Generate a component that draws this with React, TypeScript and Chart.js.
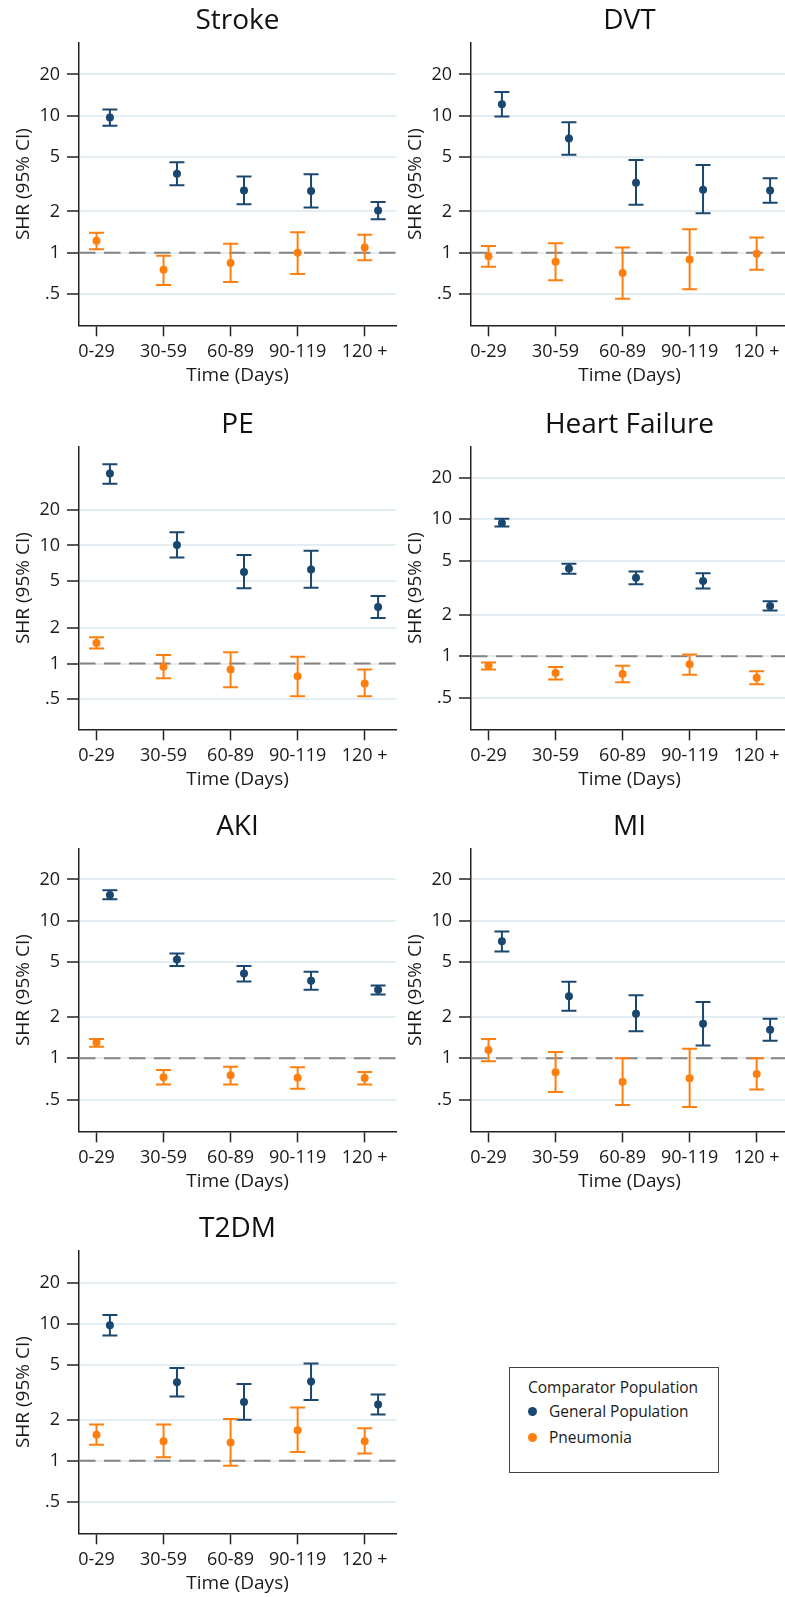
import React, { useEffect, useRef } from 'react';
import { Chart, registerables } from 'chart.js';

Chart.register(...registerables);

// ---------- data ----------
const categories = ['0-29', '30-59', '60-89', '90-119', '120 +'];
const yTickValues = [0.5, 1, 2, 5, 10, 20];
const yTickLabels = ['.5', '1', '2', '5', '10', '20'];
const seriesNames = ['General Population', 'Pneumonia'];
const panelTitles = ['Stroke', 'DVT', 'PE', 'Heart Failure', 'AKI', 'MI', 'T2DM'];

// each entry: [SHR, lower 95% CI, upper 95% CI]
const strokeGeneral = [[9.7, 8.45, 11.1], [3.77, 3.1, 4.57], [2.84, 2.26, 3.59], [2.82, 2.14, 3.73], [2.03, 1.75, 2.34]];
const strokePneumonia = [[1.22, 1.06, 1.4], [0.75, 0.58, 0.95], [0.84, 0.61, 1.16], [1.0, 0.7, 1.41], [1.09, 0.88, 1.35]];

const dvtGeneral = [[12.1, 9.84, 14.9], [6.8, 5.19, 8.95], [3.24, 2.24, 4.75], [2.88, 1.94, 4.37], [2.84, 2.31, 3.49]];
const dvtPneumonia = [[0.94, 0.79, 1.12], [0.86, 0.63, 1.17], [0.71, 0.46, 1.09], [0.89, 0.54, 1.48], [0.98, 0.75, 1.29]];

const peGeneral = [[40.5, 33.3, 48.5], [10.07, 7.9, 12.9], [5.97, 4.34, 8.28], [6.25, 4.39, 9.02], [3.01, 2.43, 3.73]];
const pePneumonia = [[1.49, 1.34, 1.67], [0.94, 0.75, 1.18], [0.89, 0.63, 1.25], [0.78, 0.53, 1.14], [0.68, 0.53, 0.89]];

const hfGeneral = [[9.41, 8.84, 10.07], [4.37, 4.0, 4.73], [3.74, 3.36, 4.15], [3.55, 3.12, 4.04], [2.33, 2.16, 2.52]];
const hfPneumonia = [[0.854, 0.8, 0.9], [0.755, 0.678, 0.835], [0.742, 0.645, 0.854], [0.874, 0.734, 1.03], [0.698, 0.624, 0.776]];

const akiGeneral = [[15.4, 14.35, 16.7], [5.22, 4.68, 5.77], [4.14, 3.62, 4.68], [3.66, 3.15, 4.26], [3.15, 2.91, 3.38]];
const akiPneumonia = [[1.3, 1.21, 1.38], [0.726, 0.645, 0.82], [0.751, 0.645, 0.868], [0.721, 0.6, 0.859], [0.718, 0.645, 0.794]];

const miGeneral = [[7.1, 5.97, 8.36], [2.82, 2.22, 3.6], [2.11, 1.57, 2.87], [1.78, 1.24, 2.57], [1.61, 1.34, 1.94]];
const miPneumonia = [[1.15, 0.95, 1.38], [0.79, 0.567, 1.11], [0.675, 0.457, 1.0], [0.714, 0.442, 1.17], [0.767, 0.593, 1.0]];

const t2dmGeneral = [[9.83, 8.26, 11.64], [3.75, 2.95, 4.78], [2.69, 1.99, 3.65], [3.8, 2.78, 5.15], [2.58, 2.18, 3.05]];
const t2dmPneumonia = [[1.55, 1.31, 1.84], [1.39, 1.06, 1.84], [1.36, 0.92, 2.02], [1.67, 1.16, 2.45], [1.39, 1.13, 1.73]];

const panelGeneral = [strokeGeneral, dvtGeneral, peGeneral, hfGeneral, akiGeneral, miGeneral, t2dmGeneral];
const panelPneumonia = [strokePneumonia, dvtPneumonia, pePneumonia, hfPneumonia, akiPneumonia, miPneumonia, t2dmPneumonia];
const panelYMin = [0.295, 0.295, 0.278, 0.293, 0.294, 0.294, 0.294];
const panelYMax = [33.9, 33.9, 68, 33.7, 33.3, 33.3, 34.3];

// ---------- styles ----------
const NAVY = '#1a476f';
const ORANGE = '#ff7f0e';
const FONT = "'Open Sans', sans-serif";
const TEXT = '#1a1a1a';
const AXIS = '#222222';
const GRID = '#e4eef2';

const rowTops = [0, 404, 806, 1208];
const colLefts = [0, 392];
const CANVAS_W = 400;
const CANVAS_H = 400;

const errorBarPlugin = {
  id: 'errorBars',
  beforeDatasetsDraw(chart: any) {
    const { ctx, chartArea, scales } = chart;
    const xs = scales.x;
    const ys = scales.y;
    ctx.save();
    // reference line at SHR = 1
    const y1 = ys.getPixelForValue(1);
    ctx.strokeStyle = '#828282';
    ctx.lineWidth = 2;
    ctx.setLineDash([16.5, 8.5]);
    ctx.beginPath();
    ctx.moveTo(chartArea.left, y1);
    ctx.lineTo(chartArea.right, y1);
    ctx.stroke();
    ctx.setLineDash([]);
    ctx.lineCap = 'butt';
    chart.data.datasets.forEach((ds: any) => {
      ctx.strokeStyle = ds.borderColor;
      ctx.lineWidth = 2;
      ds.data.forEach((p: any) => {
        const x = xs.getPixelForValue(p.x);
        const yl = ys.getPixelForValue(p.lo);
        const yh = ys.getPixelForValue(p.hi);
        ctx.beginPath();
        ctx.moveTo(x, yl);
        ctx.lineTo(x, yh);
        ctx.moveTo(x - 7.5, yl);
        ctx.lineTo(x + 7.5, yl);
        ctx.moveTo(x - 7.5, yh);
        ctx.lineTo(x + 7.5, yh);
        ctx.stroke();
      });
    });
    ctx.restore();
  },
};

function Panel({ index, left, top }: { index: number; left: number; top: number }) {
  const ref = useRef<HTMLCanvasElement>(null);
  useEffect(() => {
    if (!ref.current) return;
    const toPoints = (arr: number[][], shift: number) =>
      arr.map((d, i) => ({ x: i + 1 + shift, y: d[0], lo: d[1], hi: d[2] }));
    const chart = new Chart(ref.current, {
      type: 'scatter',
      data: {
        datasets: [
          {
            label: seriesNames[0],
            data: toPoints(panelGeneral[index], 0.2),
            borderColor: NAVY,
            backgroundColor: NAVY,
            pointRadius: 4,
            pointBorderWidth: 0,
          },
          {
            label: seriesNames[1],
            data: toPoints(panelPneumonia[index], 0),
            borderColor: ORANGE,
            backgroundColor: ORANGE,
            pointRadius: 4,
            pointBorderWidth: 0,
          },
        ] as any,
      },
      options: {
        responsive: false,
        animation: false,
        devicePixelRatio: 1,
        layout: { padding: 0 },
        plugins: {
          legend: { display: false },
          tooltip: { enabled: false },
          title: {
            display: true,
            text: panelTitles[index],
            fullSize: false,
            color: '#111111',
            font: { family: FONT, size: 28, weight: 'normal', lineHeight: 1.2 },
            padding: { top: 3.8, bottom: 5.6 },
          },
        },
        scales: {
          x: {
            type: 'linear',
            position: 'bottom',
            bounds: 'data',
            min: 0.739,
            max: 5.467,
            afterBuildTicks: (s: any) => {
              s.ticks = categories.map((_, i) => ({ value: i + 1 }));
            },
            afterFit: (s: any) => {
              s.height = 74.7;
            },
            ticks: {
              autoSkip: false,
              maxRotation: 0,
              padding: 5,
              color: TEXT,
              font: { family: FONT, size: 18 },
              callback: (v: any) => categories[Math.round(Number(v)) - 1] ?? '',
            },
            grid: { drawOnChartArea: false, drawTicks: true, tickLength: 11, tickColor: AXIS, tickWidth: 1.5 },
            border: { display: true, color: AXIS, width: 1.5 },
            title: {
              display: true,
              text: 'Time (Days)',
              color: TEXT,
              font: { family: FONT, size: 19, lineHeight: 1.2 },
              padding: { top: 0, bottom: 12.6 },
            },
          },
          y: {
            type: 'logarithmic',
            bounds: 'data',
            min: panelYMin[index],
            max: panelYMax[index],
            afterBuildTicks: (s: any) => {
              s.ticks = yTickValues.map((v) => ({ value: v }));
            },
            afterFit: (s: any) => {
              s.width = 79;
            },
            ticks: {
              autoSkip: false,
              padding: 7,
              color: TEXT,
              font: { family: FONT, size: 18 },
              callback: (v: any) => {
                const i = yTickValues.findIndex((t) => Math.abs(t - Number(v)) < 1e-9);
                return i >= 0 ? yTickLabels[i] : '';
              },
            },
            grid: { color: GRID, lineWidth: 2, drawTicks: true, tickLength: 12, tickColor: AXIS, tickWidth: 1.5 },
            border: { display: true, color: AXIS, width: 1.5 },
            title: {
              display: true,
              text: 'SHR (95% CI)',
              color: TEXT,
              font: { family: FONT, size: 19, lineHeight: 1.2 },
              padding: { top: 12.6, bottom: 0 },
            },
          },
        },
      } as any,
      plugins: [errorBarPlugin],
    });
    return () => chart.destroy();
  }, [index]);
  return (
    <canvas
      ref={ref}
      width={CANVAS_W}
      height={CANVAS_H}
      style={{ position: 'absolute', left, top, width: CANVAS_W, height: CANVAS_H }}
    />
  );
}

function Legend() {
  const boxLeft = 509;
  const boxTop = 1367;
  const textStyle: React.CSSProperties = {
    position: 'absolute',
    fontFamily: FONT,
    fontSize: 15.5,
    color: TEXT,
    height: 20,
    lineHeight: '20px',
    whiteSpace: 'nowrap',
  };
  const dot = (color: string, cy: number) => (
    <div
      style={{
        position: 'absolute',
        left: 531 - boxLeft - 4.5,
        top: cy - boxTop - 4.5,
        width: 9,
        height: 9,
        borderRadius: '50%',
        background: color,
      }}
    />
  );
  return (
    <div
      style={{
        position: 'absolute',
        left: boxLeft,
        top: boxTop,
        width: 210,
        height: 106,
        border: '1px solid #444',
        boxSizing: 'border-box',
        background: '#fff',
      }}
    >
      <div style={{ ...textStyle, left: 527 - boxLeft, top: 1386 - boxTop - 10 }}>Comparator Population</div>
      {dot(NAVY, 1410)}
      <div style={{ ...textStyle, left: 548 - boxLeft, top: 1410 - boxTop - 10 }}>{seriesNames[0]}</div>
      {dot(ORANGE, 1436)}
      <div style={{ ...textStyle, left: 548 - boxLeft, top: 1436 - boxTop - 10 }}>{seriesNames[1]}</div>
    </div>
  );
}

export default function App() {
  const panels = panelTitles.map((_, i) => ({
    index: i,
    left: colLefts[i % 2],
    top: rowTops[Math.floor(i / 2)],
  }));
  return (
    <div
      style={{
        position: 'absolute',
        left: 0,
        top: 0,
        width: 785,
        height: 1597,
        overflow: 'hidden',
        background: '#ffffff',
      }}
    >
      {panels.map((p) => (
        <Panel key={p.index} index={p.index} left={p.left} top={p.top} />
      ))}
      <Legend />
    </div>
  );
}
